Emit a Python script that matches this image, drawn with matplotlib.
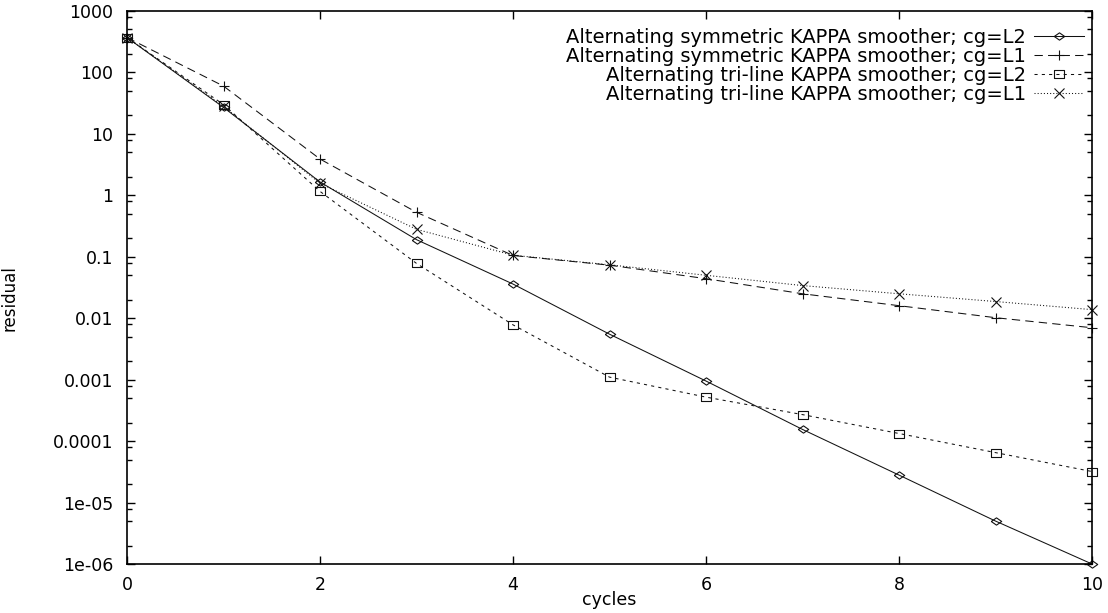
import matplotlib
matplotlib.use("Agg")
import matplotlib.pyplot as plt
from matplotlib.ticker import FixedLocator, FixedFormatter, LogLocator, NullFormatter
from matplotlib.legend_handler import HandlerLine2D
import numpy as np

# Convergence history of the multigrid smoothers
cycles = [0, 1, 2, 3, 4, 5, 6, 7, 8, 9, 10]
sym_L2 = [370, 27, 1.65, 0.19, 0.036, 0.0055, 0.00095, 0.000155, 2.8e-5, 5.0e-6, 1.0e-6]
sym_L1 = [370, 60, 3.9, 0.53, 0.105, 0.073, 0.044, 0.025, 0.016, 0.0102, 0.0070]
tri_L2 = [370, 30, 1.16, 0.078, 0.0078, 0.0011, 0.00052, 0.00027, 0.000133, 6.5e-5, 3.2e-5]
tri_L1 = [370, 28, 1.57, 0.28, 0.106, 0.074, 0.05, 0.034, 0.025, 0.0187, 0.0138]

labels = [
    "Alternating symmetric KAPPA smoother; cg=L2",
    "Alternating symmetric KAPPA smoother; cg=L1",
    "Alternating tri-line KAPPA smoother; cg=L2",
    "Alternating tri-line KAPPA smoother; cg=L1",
]

y_ticks = [1e-6, 1e-5, 1e-4, 1e-3, 1e-2, 1e-1, 1, 10, 100, 1000]
y_tick_labels = ["1e-06", "1e-05", "0.0001", "0.001", "0.01", "0.1", "1", "10", "100", "1000"]
x_ticks = [0, 2, 4, 6, 8, 10]

plt.rcParams["font.family"] = ["DejaVu Sans"]

diamond = [(-1, 0), (0, 0.7), (1, 0), (0, -0.7), (-1, 0)]
square = [(-1, -0.75), (1, -0.75), (1, 0.75), (-1, 0.75), (-1, -0.75)]

fig = plt.figure(figsize=(11.08, 6.13), dpi=100)
ax = fig.add_axes([127 / 1108, 1 - 564 / 613, (1092 - 127) / 1108, (564 - 11) / 613])

lw = 0.75
ink = "#111111"
ax.plot(cycles, sym_L2, color=ink, lw=lw, ls="-", marker=diamond, ms=7.5,
        mfc="none", mec=ink, mew=0.8, clip_on=False, label=labels[0])
ax.plot(cycles, sym_L1, color=ink, lw=lw, ls=(0, (8, 5)), marker="+", ms=7.5,
        mew=0.8, clip_on=False, label=labels[1])
ax.plot(cycles, tri_L2, color=ink, lw=lw, ls=(0, (3, 4)), marker=square, ms=7.5,
        mfc="none", mec=ink, mew=0.8, clip_on=False, label=labels[2])
ax.plot(cycles, tri_L1, color=ink, lw=lw, ls=(0, (1, 2)), marker="x", ms=6.5,
        mew=0.8, clip_on=False, label=labels[3])

ax.set_yscale("log")
ax.set_xlim(0, 10)
ax.set_ylim(1e-6, 1000)
ax.yaxis.set_major_locator(FixedLocator(y_ticks))
ax.yaxis.set_major_formatter(FixedFormatter(y_tick_labels))
ax.yaxis.set_minor_locator(LogLocator(base=10, subs=(2, 5, 8)))
ax.yaxis.set_minor_formatter(NullFormatter())
ax.set_xticks(x_ticks)
ax.set_xticklabels([str(v) for v in x_ticks])

ax.tick_params(which="both", direction="in", top=True, right=True, labelsize=12.5)
ax.tick_params(axis="y", which="major", length=6, width=1, pad=10)
ax.tick_params(axis="y", which="minor", length=3.5, width=1)
ax.tick_params(axis="x", which="major", length=6, width=1, pad=9)
for sp in ax.spines.values():
    sp.set_linewidth(1.2)

ax.set_xlabel("cycles", fontsize=12.5, va="center")
ax.xaxis.set_label_coords(0.5, (564 - 600) / 553)
ax.set_ylabel("residual", fontsize=12, va="center")
ax.yaxis.set_label_coords((10 - 127) / 965, (564 - 298) / 553)


class LeftMarkerHandler(HandlerLine2D):
    def get_xdata(self, legend, xdescent, ydescent, width, height, fontsize):
        xdata = np.array([-xdescent, -xdescent + width])
        xmark = np.array([-xdescent + 0.3 * width])
        return xdata, xmark


handler = LeftMarkerHandler()
leg = ax.legend(loc="upper right", bbox_to_anchor=(1.0, 1 - 9 / 553), frameon=False,
                markerfirst=False, fontsize=14, handlelength=2.6, handletextpad=0.4,
                labelspacing=0.0, borderaxespad=0.0, numpoints=1,
                handler_map={l: handler for l in ax.get_lines()})

fig.savefig("out.png", dpi=100)
